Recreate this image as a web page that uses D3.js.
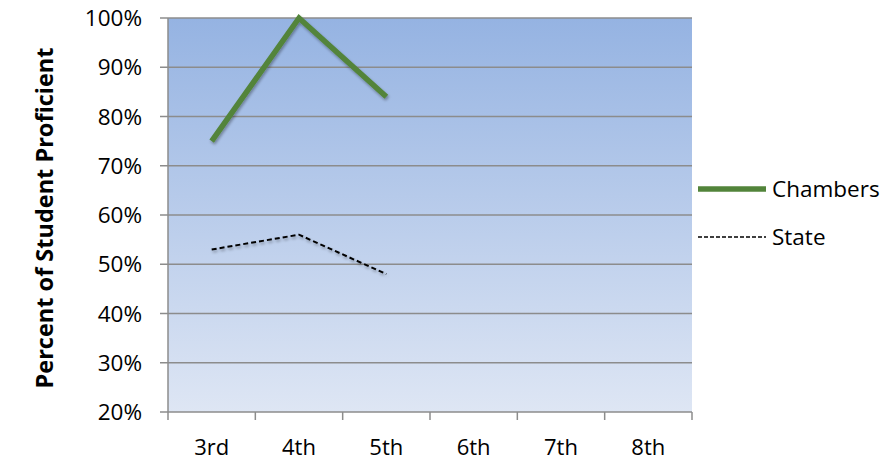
<!DOCTYPE html>
<html><head><meta charset="utf-8">
<script src="https://cdn.jsdelivr.net/npm/d3@7"></script>
<style>body{margin:0;background:#fff}svg{display:block;font-family:"Open Sans",sans-serif}</style>
</head><body>
<svg id="c" width="887" height="466"></svg>
<script>
const grades = ["3rd","4th","5th","6th","7th","8th"];
const chambers = [75, 100, 84];
const state = [53, 56, 48];
const yTicks = [20,30,40,50,60,70,80,90,100];
const seriesNames = ["Chambers","State"];

const svg = d3.select("#c");
const L=168, R=692, T=18, B=412;
const x = d3.scaleBand().domain(grades).range([L,R]);
const y = d3.scaleLinear().domain([20,100]).range([B,T]);

const defs = svg.append("defs");
const g = defs.append("linearGradient").attr("id","bg").attr("x1",0).attr("y1",0).attr("x2",0).attr("y2",1);
g.append("stop").attr("offset","0%").attr("stop-color","#95b3e2");
g.append("stop").attr("offset","100%").attr("stop-color","#dee6f4");
const f = defs.append("filter").attr("id","sh").attr("x","-10%").attr("y","-50%").attr("width","120%").attr("height","200%");
f.append("feGaussianBlur").attr("in","SourceAlpha").attr("stdDeviation",1.5).attr("result","b");
f.append("feOffset").attr("in","b").attr("dx",1).attr("dy",2).attr("result","o");
f.append("feComponentTransfer").attr("in","o").attr("result","o2").append("feFuncA").attr("type","linear").attr("slope",0.35);
const fm = f.append("feMerge"); fm.append("feMergeNode").attr("in","o2"); fm.append("feMergeNode").attr("in","SourceGraphic");

svg.append("rect").attr("x",L).attr("y",T).attr("width",R-L).attr("height",B-T).attr("fill","url(#bg)");

// gridlines
svg.append("g").selectAll("line").data(yTicks).join("line")
  .attr("x1",L-8).attr("x2",R).attr("y1",d=>y(d)).attr("y2",d=>y(d))
  .attr("stroke","#8c8c8c").attr("stroke-width",1.5);

// y axis line
svg.append("line").attr("x1",L).attr("x2",L).attr("y1",T).attr("y2",B).attr("stroke","#8c8c8c").attr("stroke-width",1.5);
// x ticks at band boundaries
const bounds = grades.map(d=>x(d)).concat([R]);
svg.append("g").selectAll("line").data(bounds).join("line")
  .attr("x1",d=>d).attr("x2",d=>d).attr("y1",B).attr("y2",B+8)
  .attr("stroke","#8c8c8c").attr("stroke-width",1.5);

// y labels
svg.append("g").selectAll("text").data(yTicks).join("text")
  .attr("x",142).attr("y",d=>y(d)+8).attr("text-anchor","end")
  .attr("font-size",22.5).attr("fill","#000").text(d=>d+"%");
// x labels
svg.append("g").selectAll("text").data(grades).join("text")
  .attr("x",d=>x(d)+x.bandwidth()/2).attr("y",455).attr("text-anchor","middle")
  .attr("font-size",22).attr("fill","#000").text(d=>d);

// axis title
svg.append("text").attr("transform","translate(53,218) rotate(-90)").attr("text-anchor","middle")
  .attr("font-size",23.5).attr("font-weight","bold").text("Percent of Student Proficient");

const line = d3.line().x((d,i)=>x(grades[i])+x.bandwidth()/2).y(d=>y(d));
svg.append("path").datum(state).attr("d",line).attr("fill","none").attr("stroke","#000")
  .attr("stroke-width",2).attr("stroke-dasharray","5,3").attr("filter","url(#sh)");
svg.append("path").datum(chambers).attr("d",line).attr("fill","none").attr("stroke","#52843a")
  .attr("stroke-width",5.5).attr("stroke-linejoin","miter").attr("filter","url(#sh)");

// legend
const lg = svg.append("g");
lg.append("line").attr("x1",698).attr("x2",766).attr("y1",189).attr("y2",189).attr("stroke","#52843a").attr("stroke-width",5.5);
lg.append("line").attr("x1",698).attr("x2",766).attr("y1",237).attr("y2",237).attr("stroke","#000").attr("stroke-width",1.5).attr("stroke-dasharray","4,2");
lg.selectAll("text").data(seriesNames).join("text")
  .attr("x",772).attr("y",(d,i)=>197+i*48).attr("font-size",22.5).text(d=>d);
</script>
</body></html>
